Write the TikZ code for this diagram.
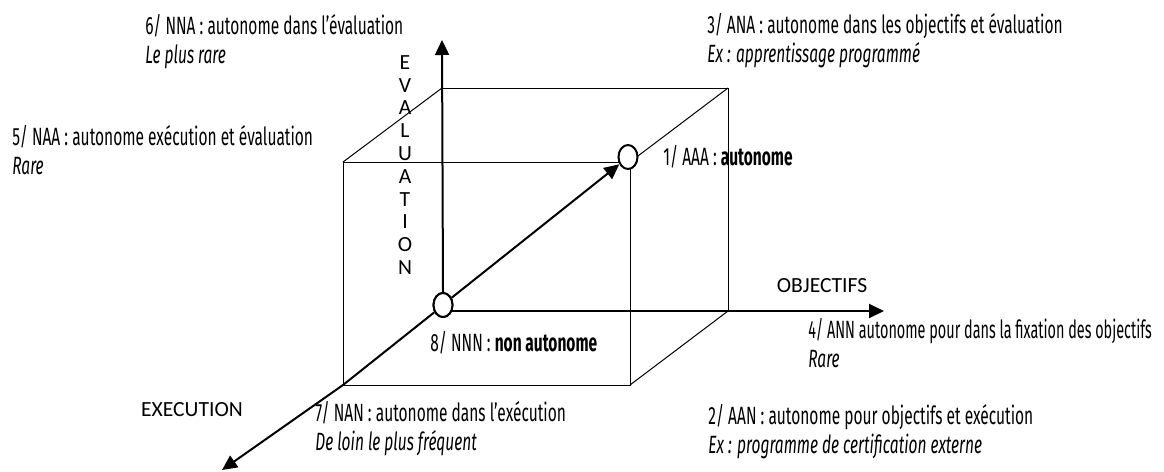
\documentclass[tikz,border=0pt]{standalone}
\usepackage{fontspec}
\setmainfont{Fira Sans}[FakeStretch=0.62]
\newfontfamily\axisfont{Carlito}
\usetikzlibrary{arrows.meta, shapes.geometric, positioning}

\begin{document}
\begin{tikzpicture}[x=0.5pt, y=-0.5pt]

\tikzstyle{axis} = [draw, line width=1pt, -{Triangle[length=7.5pt, width=7pt]}]
\tikzstyle{edge} = [draw, line width=0.5pt]
\tikzstyle{pole} = [ellipse, draw, line width=1pt, fill=white, minimum width=9.5pt, minimum height=12pt, inner sep=0pt]
\tikzstyle{infotext} = [anchor=north west, align=left, inner sep=0pt, font=\fontsize{12.5}{14.5}\selectfont]
\tikzstyle{axislabel} = [inner sep=0pt, font=\axisfont\fontsize{10.8}{11.4}\selectfont]

	\useasboundingbox (0,0) rectangle (1164,472);

	% cube, back face and front face
	\coordinate (back_tl) at (442,88);
	\coordinate (back_tr) at (728,88);
	\coordinate (back_br) at (728,311);
	\coordinate (back_bl) at (442,311);
	\coordinate (front_tl) at (343,162);
	\coordinate (front_tr) at (630,162);
	\coordinate (front_br) at (630,385);
	\coordinate (front_bl) at (343,385);

	\draw [edge] (back_tl) -- (back_tr) -- (back_br);
	\draw [edge] (front_tl) rectangle (front_br);
	\draw [edge] (front_tl) -- (back_tl);
	\draw [edge] (front_tr) -- (back_tr);
	\draw [edge] (front_br) -- (back_br);

	% axes
	\coordinate (eval_tip) at (442,40);
	\coordinate (obj_tip) at (884,311);
	\coordinate (exec_tip) at (222,470);

	\node [pole] (nnn) at (443,305) {};
	\node [pole] (aaa) at (628,157) {};

	\path [axis] (nnn.north) -- (eval_tip);
	\path [axis] (nnn.-40 |- back_bl) -- (obj_tip);
	\path [axis] (nnn.-140) -- (front_bl) -- (exec_tip);
	\path [axis] (nnn.40) -- (aaa.-140);
	\node [pole] at (nnn) {};

	\node [axislabel, align=center] (evaluation) at (405,165) {E\\V\\A\\L\\U\\A\\T\\I\\O\\N};
	\node [axislabel] (objectifs) at (822,286) {OBJECTIFS};
	\node [axislabel] (execution) at (192,410) {EXECUTION};

	% the eight cases
	\node [infotext, anchor=west] (case1) at (663,157) {1/ AAA : \textbf{autonome}};
	\node [infotext] (case2) at (708,404) {2/ AAN : autonome pour objectifs et exécution\\\textit{Ex : programme de certification externe}};
	\node [infotext] (case3) at (707,13) {3/ ANA : autonome dans les objectifs et évaluation\\\textit{Ex : apprentissage programmé}};
	\node [infotext] (case4) at (808,318) {\scalebox{0.93}[1]{4/ ANN autonome pour dans la fixation des objectifs}\\\textit{Rare}};
	\node [infotext] (case5) at (12,125) {5/ NAA : autonome exécution et évaluation\\\textit{Rare}};
	\node [infotext] (case6) at (145,14) {6/ NNA : autonome dans l’évaluation\\\textit{Le plus rare}};
	\node [infotext] (case7) at (315,401) {7/ NAN : autonome dans l’exécution\\\textit{De loin le plus fréquent}};
	\node [infotext, anchor=west] (case8) at (430,343) {8/ NNN : \textbf{non autonome}};

\end{tikzpicture}
\end{document}
